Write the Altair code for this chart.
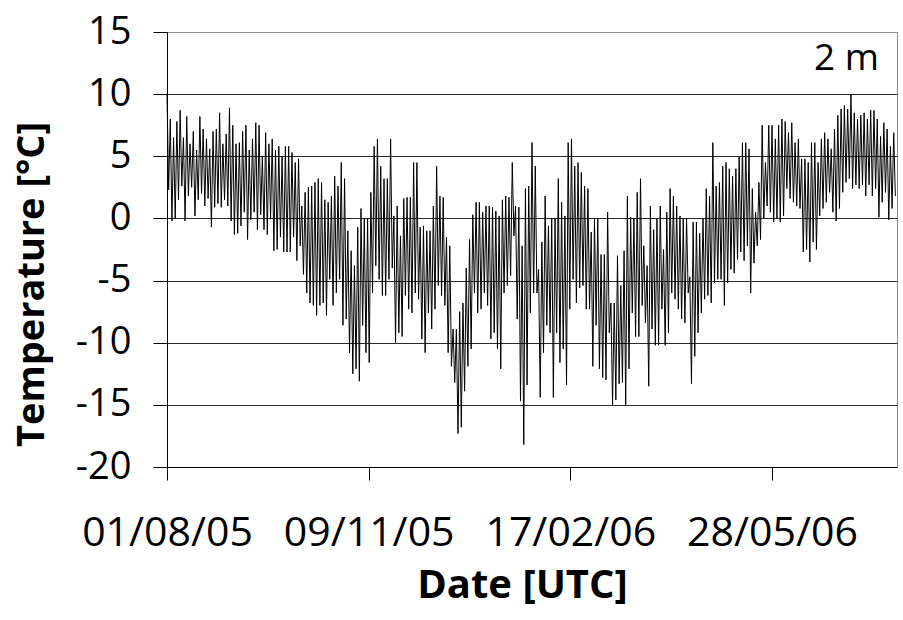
import altair as alt
import pandas as pd

# Air temperature at 2 m: successive daily highs and lows (degrees C),
# one high/low pair per sampling step, starting 01/08/2005.
highs = [
    # Aug - Sep 2005
    10.0, 8.0, 6.5, 7.8, 8.7, 6.5, 8.2, 6.0, 7.0, 5.5, 8.2, 7.2, 6.4, 5.6, 7.0, 7.2, 8.5, 6.0,
    6.8, 8.9, 7.5, 6.0, 6.1, 7.0, 7.5, 5.5, 6.4, 7.7, 7.5, 5.0, 6.9, 6.0, 6.4, 5.5, 5.8, 5.0,
    # Oct - Nov 2005
    5.8, 5.8, 5.3, 4.5, 4.8, 1.0, 2.1, 2.5, 2.6, 2.9, 3.2, 2.9, 1.5, 1.3, 1.8, 3.4, 2.6, 4.5, 3.2,
    -1.0, -2.6, -3.8, -0.7, 0.8, 0.0, 0.0, 2.1, 5.8, 6.4, 4.2, 3.2, 3.2, 6.4, 0.2, 1.0, -1.4, 1.6, 1.7,
    # Dec 2005 - Jan 2006
    1.7, 4.5, 4.5, -0.7, -0.6, -1.0, -1.0, 1.0, 4.2, 1.8, 1.7, -1.5, -2.2, -8.9, -8.9, -7.5, -6.8, -4.0, -1.7,
    0.3, 1.3, 1.3, 0.5, 1.0, 1.0, 0.9, 0.6, 0.2, 1.5, 1.8, 1.7, 4.5, 1.0, 0.9, -2.2, 2.4, 2.6, 6.1,
    # Feb - Mar 2006
    4.2, -4.1, -1.9, 1.8, -0.6, 0.0, 0.0, 3.2, 1.3, 0.2, 6.1, 6.4, 4.2, 4.5, 3.7, 2.6, 2.4, -1.1, 0.0,
    0.0, -2.9, -2.9, 0.5, -6.8, -6.8, -3.0, -5.4, -2.6, 1.8, 0.1, 0.0, 2.1, 3.2, -2.2, -3.8, 1.0, -0.9, 0.0,
    # Apr - May 2006
    1.0, -2.5, 0.5, 2.4, 1.8, 1.0, 0.2, 0.0, 0.0, -4.7, -0.3, -0.3, -1.2, 0.0, 2.4, 1.8, 6.1, 2.6,
    2.9, 4.2, 4.5, 4.0, 3.4, 4.0, 5.0, 6.1, 6.1, 5.6, 2.4, 0.5, 2.9, 7.5, 4.5, 7.5, 7.5, 6.4,
    # Jun - Jul 2006
    7.5, 8.0, 7.8, 6.9, 7.7, 6.1, 6.4, 4.8, 4.8, 4.5, 6.1, 6.1, 4.5, 6.4, 6.9, 6.4, 5.6, 7.2,
    8.3, 8.8, 9.1, 8.8, 10.0, 8.5, 8.0, 8.3, 8.5, 8.0, 8.7, 8.7, 8.0, 6.6, 7.7, 7.2, 5.8, 6.9,
]
lows = [
    # Aug - Sep 2005
    2.3, -0.2, 0.0, 1.5, 2.6, -0.2, 1.8, 2.5, 0.2, 1.5, 2.0, 1.0, 1.6, -0.7, 0.9, 1.2, 0.9, 1.5,
    1.0, -0.2, -1.3, -1.2, -0.6, 0.5, -1.7, -0.1, 0.5, -0.9, 0.3, -0.9, -1.3, 0.0, -2.6, -2.5, -1.5, -2.7,
    # Oct - Nov 2005
    -2.7, -2.7, -1.5, -3.4, -2.2, -4.5, -6.0, -6.8, -7.0, -7.8, -7.0, -6.8, -7.8, -4.9, -7.0, -6.0, -4.9, -8.6, -8.1,
    -10.8, -12.5, -12.1, -13.1, -8.6, -10.8, -11.6, -6.0, -3.8, -4.9, -6.2, -6.2, -4.9, -4.0, -10.0, -9.2, -9.5, -6.2, -7.3,
    # Dec 2005 - Jan 2006
    -7.6, -6.0, -6.5, -9.7, -10.8, -7.6, -8.9, -7.3, -5.4, -6.2, -7.0, -10.8, -11.9, -13.2, -17.3, -16.8, -13.9, -11.9, -10.5,
    -6.0, -7.6, -7.3, -6.0, -7.0, -9.7, -9.2, -10.5, -12.1, -6.0, -5.4, -4.6, -1.4, -8.1, -14.7, -18.2, -13.4, -7.6, -6.0,
    # Feb - Mar 2006
    -6.0, -14.4, -10.8, -8.6, -9.2, -14.4, -9.2, -11.6, -10.5, -13.4, -7.3, -4.9, -6.8, -5.6, -5.4, -7.3, -7.3, -11.9, -8.6,
    -12.1, -12.8, -13.0, -9.2, -15.0, -14.6, -13.3, -13.2, -15.0, -12.1, -7.6, -9.5, -9.5, -7.0, -8.4, -13.5, -8.9, -10.2, -10.2,
    # Apr - May 2006
    -7.3, -10.2, -9.2, -6.0, -6.5, -7.3, -8.1, -8.4, -6.0, -13.3, -11.1, -9.2, -7.6, -6.5, -6.2, -6.8, -5.2, -4.9,
    -4.9, -7.0, -5.2, -4.1, -4.4, -3.3, -2.7, -3.4, -2.2, -6.0, -3.6, -2.2, -1.7, 0.0, 1.0, 0.5, -0.3, 0.0,
    # Jun - Jul 2006
    -0.3, 0.2, 2.4, 1.6, 1.3, 1.0, 0.8, -2.7, -2.5, -3.5, -1.9, -2.5, 0.2, 0.8, 1.3, 2.1, 0.5, -0.2,
    0.8, 2.1, 2.9, 3.2, 2.4, 2.7, 2.4, 2.7, 1.8, 2.7, 1.8, 2.4, 0.1, 1.3, 2.1, -0.1, 0.8, 1.8,
]

# Time axis: days since 01/08/2005, labelled every 100 days
span_days = 362.0
tick_days = [0, 100, 200, 300]
tick_labels = ["01/08/05", "09/11/05", "17/02/06", "28/05/06"]
temp_ticks = [-20, -15, -10, -5, 0, 5, 10, 15]

step = span_days / len(highs)
rows = []
for i, (hi, lo) in enumerate(zip(highs, lows)):
    rows.append({"day": i * step, "temp": hi})
    rows.append({"day": i * step + step / 2, "temp": lo})
df = pd.DataFrame(rows)

label_map = "{" + ", ".join(f"'{d}': '{t}'" for d, t in zip(tick_days, tick_labels)) + "}"

FONT = "Open Sans"

x_enc = alt.X(
    "day:Q",
    scale=alt.Scale(domain=[0, span_days], nice=False, zero=False),
    axis=alt.Axis(
        values=tick_days,
        labelExpr=f"{label_map}[toString(datum.value)]",
        grid=False,
        title="Date [UTC]",
        titleFont=FONT,
        titleFontSize=40,
        titleFontWeight="bold",
        titleColor="black",
        titleX=355,
        titleY=118,
        titleBaseline="middle",
        labelFont=FONT,
        labelFontSize=41,
        labelColor="black",
        labelPadding=33,
        tickSize=13,
        tickColor="black",
        domainColor="black",
        labelOverlap=False,
        labelFlush=False,
    ),
)
y_enc = alt.Y(
    "temp:Q",
    scale=alt.Scale(domain=[-20, 15], nice=False, zero=False),
    axis=alt.Axis(
        values=temp_ticks,
        labelExpr="toString(datum.value)",
        grid=True,
        # the top gridline doubles as the light plot frame
        gridColor=alt.condition("datum.value == 15", alt.value("#8c8c8c"), alt.value("#2a2a2a")),
        gridWidth=1,
        title="Temperature [°C]",
        titleFont=FONT,
        titleFontSize=38,
        titleFontWeight="bold",
        titleColor="black",
        titleAngle=-90,
        titleX=-135,
        titleY=252,
        titleBaseline="middle",
        labelFont=FONT,
        labelFontSize=38,
        labelColor="black",
        labelPadding=22,
        tickSize=14,
        tickColor="black",
        domainColor="black",
        labelOverlap=False,
    ),
)

series = alt.Chart(df).mark_line(color="black", strokeWidth=1).encode(x=x_enc, y=y_enc)

# Height label in the upper-right corner
note = pd.DataFrame({"day": [337.0], "temp": [12.8], "text": ["2 m"]})
label = alt.Chart(note).mark_text(
    font=FONT, fontSize=37, color="black", align="center", baseline="middle"
).encode(x="day:Q", y="temp:Q", text="text:N")

chart = (
    alt.layer(series, label)
    .properties(
        width=730,
        height=435,
        padding={"left": 167, "top": 32, "right": 6, "bottom": 153},
        autosize=alt.AutoSizeParams(type="none"),
        background="white",
    )
    .configure_view(stroke="#8c8c8c", strokeWidth=1)
)

chart.save("out.html", embed_options={"renderer": "svg", "actions": False})
